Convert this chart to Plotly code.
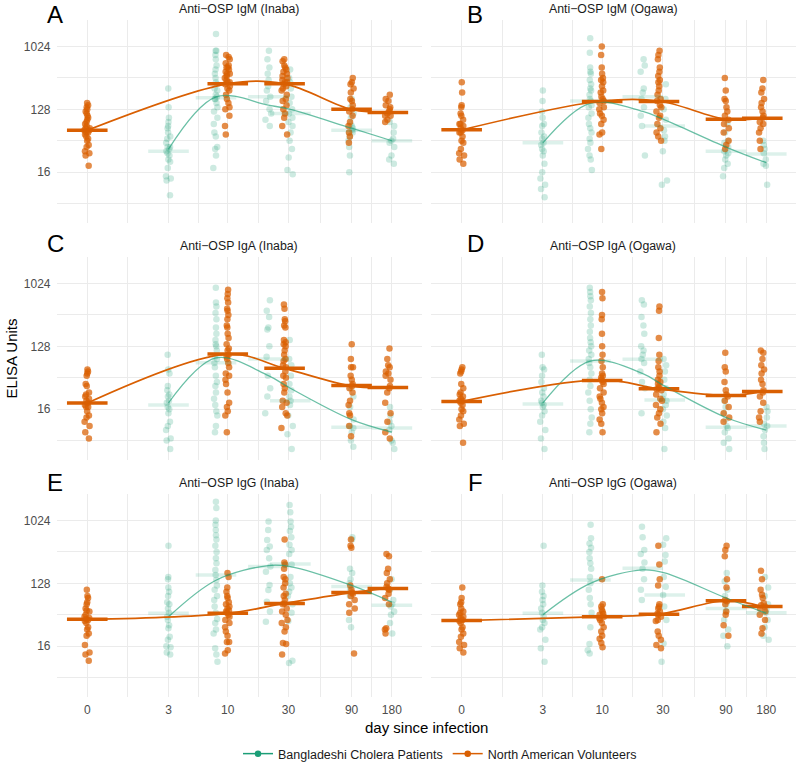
import math
import plotly.graph_objects as go

# ---------------- data (values are log2 ELISA units) ----------------
TEAL = "#1B9E77"
ORANGE = "#D95F02"
series_names = ["Bangladeshi Cholera Patients", "North American Volunteers"]

x_tick_days = [0, 3, 10, 30, 90, 180]
x_tick_labels = ["0", "3", "10", "30", "90", "180"]
y_tick_values = [16, 128, 1024]
y_tick_labels = ["16", "128", "1024"]

panel_letters = ["A", "B", "C", "D", "E", "F"]
panel_titles = ["Anti\u2212OSP IgM (Inaba)", "Anti\u2212OSP IgM (Ogawa)",
                "Anti\u2212OSP IgA (Inaba)", "Anti\u2212OSP IgA (Ogawa)",
                "Anti\u2212OSP IgG (Inaba)", "Anti\u2212OSP IgG (Ogawa)"]

bcp_days = [3, 8, 21, 31, 90, 180]   # Bangladeshi cholera patients
nav_days = [0, 10, 28, 90, 168]      # North American volunteers

# ---- Panel A
nav_A = [
    [7.3,7.2,7.1,7.0,6.9,6.8,6.7,6.6,6.5,6.4,6.3,6.2,6.1,6.1,6.0,6.0,5.9,5.9,5.8,5.7,5.6,5.5,5.3,5.2,5.0,4.9,4.8,4.3],
    [9.6,9.5,9.4,9.2,9.1,9.0,9.0,8.9,8.8,8.7,8.7,8.6,8.5,8.4,8.3,8.3,8.2,8.1,8.0,7.9,7.7,7.5,7.3,7.1,7.0,6.7,6.2,5.8],
    [9.4,9.3,9.1,9.0,8.9,8.8,8.7,8.6,8.5,8.4,8.3,8.3,8.2,8.1,8.0,7.9,7.7,7.5,7.4,7.2,7.0,6.8,6.6,6.2,5.8],
    [8.5,8.3,8.2,8.0,7.8,7.5,7.4,7.2,7.0,6.9,6.7,6.4,6.2,5.9,5.7,5.4],
    [7.7,7.5,7.4,7.2,7.1,7.0,6.9,6.8,6.7,6.7,6.5,6.4],
]
bcp_A = [
    [8.0,7.1,6.6,6.4,6.2,6.1,5.9,5.7,5.6,5.4,5.2,5.2,5.1,5.0,4.9,4.8,4.6,4.5,4.2,3.8,3.7,3.6,2.9],
    [10.6,9.8,9.8,9.6,9.4,9.1,8.9,8.7,8.5,8.3,8.2,8.0,7.9,7.7,7.6,7.5,7.5,7.3,7.1,6.9,6.6,6.3,5.9,5.7,5.2,5.1,4.8,4.2],
    [9.8,9.4,9.0,8.7,8.4,8.1,7.9,7.6,7.4,7.0,6.8,6.5,6.2],
    [8.9,8.5,8.3,8.0,7.6,7.3,7.0,6.8,6.6,6.4,6.2,5.9,5.5,5.1,4.7,4.1,3.9],
    [7.5,7.1,6.8,6.6,6.3,6.2,6.1,6.0,5.9,5.9,5.7,5.5,5.2,4.8,4.0],
    [6.4,6.2,5.9,5.6,5.5,5.4,5.2,4.8,4.6,4.4],
]
# ---- Panel B
nav_B = [
    [8.3,7.8,7.2,7.1,6.8,6.7,6.5,6.3,6.3,6.2,6.1,6.0,5.9,5.9,5.7,5.5,5.4,5.1,4.9,4.8,4.6,4.4],
    [10.0,9.6,9.0,8.7,8.5,8.4,8.3,8.1,7.9,7.8,7.6,7.5,7.4,7.3,7.1,7.0,6.8,6.7,6.5,6.3,5.9,5.8,5.1],
    [9.8,9.6,9.4,9.0,8.8,8.6,8.4,8.3,8.1,7.9,7.7,7.5,7.4,7.2,7.1,6.9,6.7,6.6,6.3,6.1,5.9,5.7,5.5],
    [8.5,7.9,7.5,7.4,7.1,6.9,6.7,6.5,6.3,6.1,5.9,5.5,5.3,5.1],
    [8.4,8.0,7.8,7.5,7.3,7.1,6.9,6.7,6.6,6.4,6.3,6.1,5.9,5.5,5.1],
]
bcp_B = [
    [7.9,7.4,6.9,6.6,6.3,6.2,5.9,5.7,5.6,5.4,5.3,5.1,5.0,4.8,4.4,4.0,3.7,3.4,3.2,2.8],
    [10.4,9.7,9.0,8.8,8.7,8.4,8.2,8.0,7.9,7.7,7.5,7.4,7.2,7.1,6.8,6.6,6.3,6.1,5.9,5.6,5.4,5.1,4.8,4.6,4.1],
    [9.4,9.1,8.8,8.0,7.8,7.5,7.1,6.7,6.2,4.8],
    [8.2,7.5,7.0,6.5,6.0,5.7,5.5,5.0,3.6,3.4],
    [6.3,5.9,5.5,5.4,5.2,5.0,4.9,4.8,4.6,4.4,4.2,3.8],
    [5.5,5.3,5.1,4.9,4.6,4.4,4.3,3.4],
]
# ---- Panel C
nav_C = [
    [5.9,5.8,5.7,5.6,5.2,5.1,4.8,4.7,4.6,4.5,4.4,4.3,4.2,4.1,4.1,3.9,3.7,3.6,3.4,3.2,2.9,2.6],
    [9.7,9.5,9.3,9.1,8.8,8.7,8.5,8.3,8.0,7.9,7.6,7.4,7.1,6.9,6.8,6.6,6.5,6.4,6.2,6.0,5.7,5.6,5.4,5.2,4.8,4.3,4.1,3.9,3.7,2.9],
    [9.0,8.8,8.3,8.2,8.0,7.9,7.3,7.2,7.1,7.0,6.8,6.6,6.4,6.3,6.1,6.0,5.8,5.6,5.5,5.2,5.0,4.8,4.4,4.3,4.1,3.8,3.7,3.1],
    [7.1,6.4,6.0,6.0,5.6,5.4,5.2,5.1,5.0,4.8,4.4,4.2,3.8,3.7,3.2,2.7],
    [6.9,6.4,6.1,6.0,5.8,5.7,5.6,5.4,5.1,5.0,4.8,4.3,3.8,3.4,2.9,2.6],
]
bcp_C = [
    [6.6,5.9,5.7,5.1,4.9,4.7,4.6,4.4,4.3,4.1,4.0,3.8,3.4,3.2,3.0,2.6,2.5,2.1],
    [9.8,9.1,8.9,8.6,8.3,7.9,7.6,7.3,7.1,7.0,6.8,6.5,6.4,6.2,6.0,5.6,5.3,5.1,4.8,4.5,4.2,3.9,3.7,3.2,2.9],
    [9.2,8.7,8.4,7.9,7.8,7.0,6.5,5.6,5.0,4.6,3.8],
    [7.3,6.4,6.1,5.6,5.2,4.9,4.6,4.4,4.2,3.7,3.2,2.8,2.1],
    [5.0,4.6,4.1,3.5,3.2,3.1,2.9,2.5,2.2],
    [4.1,3.7,3.4,3.2,3.0,2.5,2.4,2.1],
]
# ---- Panel D
nav_D = [
    [6.0,5.9,5.8,5.7,5.2,5.0,4.8,4.7,4.6,4.5,4.4,4.4,4.3,4.2,4.0,3.9,3.7,3.5,3.3,3.2,2.4],
    [9.6,9.3,8.5,8.3,7.6,7.0,6.6,6.3,6.0,5.7,5.6,5.5,5.4,5.3,5.2,5.0,4.8,4.6,4.5,4.3,4.1,4.0,3.8,3.5,3.3,2.9],
    [8.9,8.7,7.4,6.6,6.3,6.0,5.8,5.6,5.4,5.3,5.2,5.1,5.0,4.95,4.9,4.7,4.5,4.4,4.2,4.0,3.8,3.6,3.3,2.9],
    [6.7,6.0,5.8,5.3,4.9,4.7,4.6,4.4,4.1,3.8,3.6,3.4],
    [6.8,6.7,6.4,6.1,5.9,5.7,5.4,5.2,4.9,4.8,4.6,4.3,3.9,3.6,3.4],
]
bcp_D = [
    [6.6,6.0,5.9,5.6,5.3,5.0,4.8,4.6,4.4,4.3,4.2,4.1,3.9,3.7,3.4,3.0,2.6,2.1],
    [9.8,9.6,9.4,9.2,8.9,8.6,8.3,8.0,7.7,7.4,7.2,7.0,6.8,6.6,6.4,6.2,6.0,5.7,5.4,5.1,4.8,4.4,4.0,3.6,3.3,2.9],
    [9.2,9.0,8.4,8.0,7.6,7.0,6.8,6.6,6.4,6.2,5.8,5.3,5.0,3.8],
    [6.4,6.1,5.8,5.4,5.0,4.7,4.5,4.4,4.2,4.0,3.7,3.4,3.1,2.1],
    [4.4,4.1,3.8,3.5,3.2,3.1,2.9,2.6,2.4,2.1],
    [4.1,3.9,3.6,3.3,3.2,3.0,2.7,2.4,2.1],
]
# ---- Panel E
nav_E = [
    [6.7,6.4,6.3,6.1,6.0,5.8,5.7,5.65,5.5,5.4,5.35,5.3,5.25,5.2,5.1,4.9,4.8,4.6,4.5,4.05,3.7,3.6,3.3],
    [7.5,7.3,6.8,6.6,6.4,6.3,6.1,6.0,5.9,5.8,5.7,5.65,5.6,5.5,5.4,5.25,5.1,4.9,4.7,4.5,4.2,4.2,3.8,3.65],
    [9.1,8.0,7.9,7.7,7.3,7.2,7.0,6.8,6.5,6.4,6.2,6.04,6.0,5.8,5.65,5.5,5.25,5.1,4.9,4.7,4.15,4.1,3.6],
    [9.1,8.8,8.7,6.9,6.7,6.56,6.5,6.4,6.2,6.0,5.8,5.6,3.65],
    [8.4,8.3,7.7,7.5,7.2,7.0,6.84,6.76,6.7,6.5,6.3,6.0,4.85,4.8,4.6],
]
bcp_E = [
    [8.8,7.3,7.2,6.8,6.6,6.4,6.1,6.0,5.8,5.6,5.4,5.25,5.0,4.85,4.45,4.3,4.0,3.95,3.7,3.6],
    [10.9,10.6,10.0,9.8,9.55,9.3,9.1,8.8,8.5,8.2,7.96,7.64,7.4,7.16,6.9,6.7,6.4,6.2,5.9,5.6,5.3,5.1,4.8,4.6,3.9,3.6,3.25],
    [9.95,9.55,9.07,8.76,8.6,8.2,7.8,7.56,6.92,6.68,6.12,5.65,5.17],
    [10.75,10.4,9.95,9.7,9.5,9.2,8.84,8.6,8.4,7.9,7.3,7.0,6.8,6.6,6.4,6.0,5.6,5.2,3.3,3.2],
    [9.2,9.1,7.7,7.5,7.2,7.0,6.7,6.4,5.25,4.9],
    [7.2,6.7,6.2,6.0,5.9,5.65,5.5,5.1,4.6],
]
# ---- Panel F
nav_F = [
    [6.8,6.3,6.1,6.0,5.8,5.65,5.6,5.5,5.4,5.35,5.25,5.2,5.1,4.9,4.8,4.6,4.45,4.2,4.05,3.9,3.7],
    [7.2,6.0,5.9,5.75,5.65,5.55,5.5,5.41,5.35,5.25,5.1,4.9,4.7,4.5,4.35,4.15,3.95],
    [8.8,7.9,7.2,6.9,6.0,5.9,5.8,5.65,5.55,5.5,5.4,5.25,5.2,4.7,4.5,4.3,4.05,3.9],
    [8.8,8.6,8.3,7.2,6.8,6.2,6.15,6.0,5.65,5.5,5.0,4.5],
    [7.6,7.2,6.7,6.45,6.3,6.05,5.95,5.89,5.8,5.65,5.5,5.25,4.85,4.6],
]
bcp_F = [
    [8.8,6.9,6.6,6.4,6.2,6.0,5.8,5.6,5.4,5.25,5.1,4.9,4.8,4.3,3.9,3.25],
    [9.8,9.15,8.9,8.7,8.5,8.2,7.96,7.7,7.3,7.0,6.7,6.3,6.0,5.6,4.9,4.1,3.8,3.65],
    [9.7,9.2,8.6,8.4,8.0,7.7,7.2,6.7,6.2],
    [9.15,8.84,8.36,8.04,7.3,6.84,6.44,5.9,5.25,4.13,3.25],
    [7.5,7.1,6.7,6.4,6.0,5.65,5.25,4.8,4.5,4.0],
    [7.3,6.8,6.4,6.0,5.75,5.6,5.25,4.9,4.5,4.3],
]

# medians (crossbars) per day, log2 units
nav_median = {
    "A": [6.0, 8.22, 8.22, 7.0, 6.85], "B": [6.02, 7.37, 7.37, 6.53, 6.58],
    "C": [4.29, 6.63, 5.95, 5.13, 5.03], "D": [4.37, 5.37, 4.97, 4.65, 4.84],
    "E": [5.28, 5.57, 6.04, 6.56, 6.76], "F": [5.22, 5.41, 5.53, 6.17, 5.89],
}
bcp_median = {
    "A": [5.0, 7.56, 7.6, 6.8, 6.0, 5.5], "B": [5.4, 7.4, 7.6, 6.2, 5.0, 4.87],
    "C": [4.2, 6.22, 6.4, 4.4, 3.13, 3.1], "D": [4.24, 6.3, 6.38, 4.44, 3.13, 3.2],
    "E": [5.57, 7.4, 7.8, 7.93, 6.85, 5.96], "F": [5.57, 7.16, 7.72, 6.44, 5.8, 5.6],
}
# smoothed trend values per day, log2 units
nav_fit = {
    "A": [6.0, 8.22, 8.22, 7.0, 6.85], "B": [6.02, 7.40, 7.40, 6.53, 6.58],
    "C": [4.29, 6.63, 5.95, 5.10, 5.03], "D": [4.37, 5.40, 4.97, 4.65, 4.84],
    "E": [5.28, 5.57, 6.04, 6.56, 6.76], "F": [5.22, 5.41, 5.53, 6.17, 5.89],
}
bcp_fit = {
    "A": [5.1, 7.6, 7.2, 7.0, 6.1, 5.5], "B": [5.4, 7.3, 6.9, 6.5, 5.2, 4.45],
    "C": [4.3, 6.45, 5.6, 5.0, 3.5, 2.9], "D": [4.3, 6.3, 5.7, 5.1, 3.6, 3.0],
    "E": [5.4, 7.15, 7.85, 7.8, 6.9, 6.1], "F": [5.5, 7.0, 7.64, 7.5, 6.3, 5.57],
}
nav_points = {"A": nav_A, "B": nav_B, "C": nav_C, "D": nav_D, "E": nav_E, "F": nav_F}
bcp_points = {"A": bcp_A, "B": bcp_B, "C": bcp_C, "D": bcp_D, "E": bcp_E, "F": bcp_F}

# ---------------- layout geometry ----------------
W, H = 800, 763
col_px = [(56.5, 421.5), (430.9, 795.9)]
row_px = [(20, 223), (257, 460), (494, 697)]
X_RANGE = [-0.525, 5.704]
Y_RANGE_LOG2 = [1.57, 11.27]
letter_px_x = [55, 475]
letter_px_y = [14, 243, 482.5]
GRID = "#EBEBEB"
FONT = "Liberation Sans, Arial, sans-serif"


def xpos(day):
    return math.log1p(day)          # log(day + 1) scale


def to_units(v):
    return 2 ** v


def rgba(hexc, a):
    h = hexc.lstrip("#")
    return "rgba(%d,%d,%d,%.3f)" % (int(h[0:2], 16), int(h[2:4], 16), int(h[4:6], 16), a)


x_tickvals = [xpos(d) for d in x_tick_days]
x_minor = [(x_tickvals[i] + x_tickvals[i + 1]) / 2 for i in range(len(x_tickvals) - 1)]
y_minor = [2 ** 2.5, 2 ** 5.5, 2 ** 8.5]

fig = go.Figure()
annotations = []
layout_axes = {}


def points_trace(days, groups, color, alpha, xa, ya):
    xs, ys = [], []
    for d, vals in zip(days, groups):
        for v in vals:
            xs.append(xpos(d))
            ys.append(to_units(v))
    return go.Box(x=xs, y=ys, xaxis=xa, yaxis=ya, boxpoints="all", jitter=1, pointpos=0,
                  width=0.11, fillcolor="rgba(0,0,0,0)", line=dict(width=0, color="rgba(0,0,0,0)"),
                  marker=dict(color=rgba(color, alpha), size=6.5, line=dict(width=0)),
                  showlegend=False, hoverinfo="y")


box_traces, scatter_traces = [], []
for i, key in enumerate(panel_letters):
    r, c = i // 2, i % 2
    sfx = "" if i == 0 else str(i + 1)
    xa, ya = "x" + sfx, "y" + sfx
    box_traces.append(points_trace(bcp_days, bcp_points[key], TEAL, 0.22, xa, ya))
    box_traces.append(points_trace(nav_days, nav_points[key], ORANGE, 0.72, xa, ya))
    scatter_traces.append(go.Scatter(
        x=[xpos(d) for d in bcp_days], y=[to_units(v) for v in bcp_median[key]], xaxis=xa, yaxis=ya,
        mode="markers", marker=dict(symbol="line-ew", size=29,
                                    line=dict(width=3.5, color=rgba(TEAL, 0.15))),
        showlegend=False, hoverinfo="skip"))
    scatter_traces.append(go.Scatter(
        x=[xpos(d) for d in nav_days], y=[to_units(v) for v in nav_median[key]], xaxis=xa, yaxis=ya,
        mode="markers", marker=dict(symbol="line-ew", size=29, line=dict(width=3.5, color=ORANGE)),
        showlegend=False, hoverinfo="skip"))
    scatter_traces.append(go.Scatter(
        x=[xpos(d) for d in bcp_days], y=[to_units(v) for v in bcp_fit[key]], xaxis=xa, yaxis=ya,
        mode="lines", line=dict(color=rgba(TEAL, 0.65), width=1.3, shape="spline", smoothing=1.0),
        showlegend=False, hoverinfo="skip"))
    scatter_traces.append(go.Scatter(
        x=[xpos(d) for d in nav_days], y=[to_units(v) for v in nav_fit[key]], xaxis=xa, yaxis=ya,
        mode="lines", line=dict(color=ORANGE, width=1.7, shape="spline", smoothing=1.0),
        showlegend=False, hoverinfo="skip"))

    x0, x1 = col_px[c]
    y0, y1 = row_px[r]
    layout_axes["xaxis" + sfx] = dict(
        domain=[x0 / W, x1 / W], range=X_RANGE, anchor=ya, tickmode="array",
        tickvals=x_tickvals, ticktext=x_tick_labels, showticklabels=(r == 2),
        showgrid=True, gridcolor=GRID, gridwidth=1, zeroline=False, showline=False,
        ticks="", ticklabelstandoff=4, tickfont=dict(size=12, color="#4D4D4D", family=FONT),
        minor=dict(tickmode="array", tickvals=x_minor, showgrid=True, gridcolor=GRID,
                   gridwidth=0.8, ticks=""),
        fixedrange=True)
    layout_axes["yaxis" + sfx] = dict(
        domain=[1 - y1 / H, 1 - y0 / H], type="log",
        range=[Y_RANGE_LOG2[0] * math.log10(2), Y_RANGE_LOG2[1] * math.log10(2)],
        anchor=xa, tickmode="array", tickvals=y_tick_values, ticktext=y_tick_labels,
        showticklabels=(c == 0), showgrid=True, gridcolor=GRID, gridwidth=1,
        zeroline=False, showline=False, ticks="", ticklabelstandoff=5,
        tickfont=dict(size=12, color="#4D4D4D", family=FONT),
        minor=dict(tickmode="array", tickvals=y_minor, showgrid=True, gridcolor=GRID,
                   gridwidth=0.8, ticks=""),
        fixedrange=True)
    annotations.append(dict(
        text=panel_titles[i], x=(x0 + x1) / 2 / W, y=1 - (y0 - 11) / H, xref="paper", yref="paper",
        xanchor="center", yanchor="middle", showarrow=False,
        font=dict(size=12.3, color="#1A1A1A", family=FONT)))
    annotations.append(dict(
        text=key, x=letter_px_x[c] / W, y=1 - letter_px_y[r] / H, xref="paper", yref="paper",
        xanchor="center", yanchor="middle", showarrow=False,
        font=dict(size=24, color="#000000", family=FONT)))

for t in box_traces + scatter_traces:
    fig.add_trace(t)

for name, colr in zip(series_names, [TEAL, ORANGE]):
    fig.add_trace(go.Scatter(x=[None], y=[None], mode="lines+markers", name=name,
                             line=dict(color=colr, width=1.5), marker=dict(color=colr, size=6.5)))

annotations.append(dict(text="ELISA Units", x=11 / W, y=1 - 358.5 / H, xref="paper", yref="paper",
                        textangle=-90, showarrow=False, xanchor="center", yanchor="middle",
                        font=dict(size=15, color="#000000", family=FONT)))
annotations.append(dict(text="day since infection", x=426.5 / W, y=1 - 727 / H, xref="paper",
                        yref="paper", showarrow=False, xanchor="center", yanchor="middle",
                        font=dict(size=15, color="#000000", family=FONT)))

fig.update_layout(
    width=W, height=H, margin=dict(l=0, r=0, t=0, b=0, autoexpand=False),
    paper_bgcolor="white", plot_bgcolor="white",
    font=dict(family=FONT),
    boxmode="overlay",
    showlegend=True,
    legend=dict(orientation="h", x=440 / W, xanchor="center", y=1 - 754 / H, yanchor="middle",
                font=dict(size=12.5, color="#1A1A1A", family=FONT), bgcolor="rgba(0,0,0,0)",
                itemwidth=30, tracegroupgap=0),
    annotations=annotations,
    **layout_axes,
)

# remove the browser's default 8px page margin so the figure sits at the window origin
fig.write_html("out.html", config={"displayModeBar": False},
               post_script="document.body.style.margin='0px';")
